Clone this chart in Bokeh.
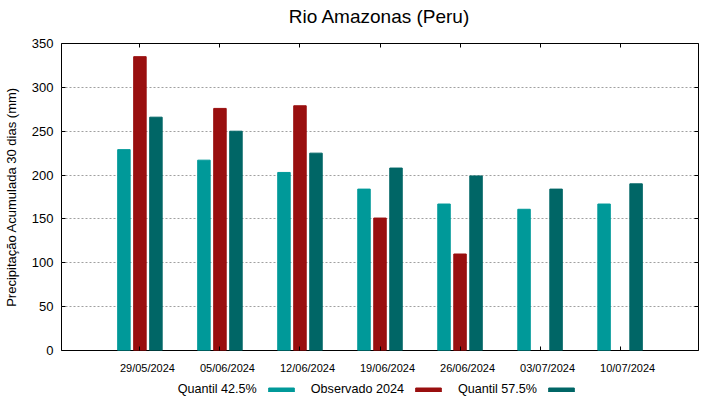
import math
from bokeh.plotting import figure
from bokeh.layouts import column
from bokeh.models import (Range1d, LinearAxis, FixedTicker, Legend, LegendItem,
                          ColumnDataSource, Label)
from bokeh.transform import dodge
from bokeh.embed import file_html
from bokeh.resources import INLINE

# ---- data ----
dates = ["29/05/2024", "05/06/2024", "12/06/2024", "19/06/2024",
         "26/06/2024", "03/07/2024", "10/07/2024"]
quantil_425 = [229, 217, 203, 184, 167, 161, 167]
observado_2024 = [335, 276, 279, 151, 110, float("nan"), float("nan")]
quantil_575 = [266, 250, 225, 208, 199, 184, 190]
y_ticks = [0, 50, 100, 150, 200, 250, 300, 350]
series_names = ["Quantil 42.5%", "Observado 2024", "Quantil 57.5%"]
title_text = "Rio Amazonas (Peru)"

FONT = "Liberation Sans"
C_Q425 = "#009999"
C_OBS = "#990f0f"
C_Q575 = "#006666"
BORDER_L, BORDER_R = 60, 22
FRAME_W, FRAME_H = 637, 307

idx = list(range(len(dates)))
source = ColumnDataSource(data=dict(x=idx, q425=quantil_425,
                                    obs=observado_2024, q575=quantil_575))


def strip_fig(h, x0=BORDER_L, y0=0):
    # a borderless strip aligned with the main frame
    f = figure(frame_width=FRAME_W, frame_height=h,
               x_range=Range1d(x0, x0 + FRAME_W), y_range=Range1d(y0, y0 + h),
               output_backend="svg", toolbar_location=None,
               x_axis_location=None, y_axis_location=None,
               min_border_left=BORDER_L, min_border_right=BORDER_R,
               min_border_top=0, min_border_bottom=0)
    f.outline_line_color = None
    f.grid.visible = False
    return f


# ---- title strip ----
TITLE_H = 30
tfig = strip_fig(TITLE_H)
tfig.add_layout(Label(x=378, y=TITLE_H - 16, text=title_text,
                      text_align="center", text_baseline="middle",
                      text_font=FONT, text_font_size="19px",
                      text_color="black"))

# ---- main plot ----
p = figure(frame_width=FRAME_W, frame_height=FRAME_H,
           x_range=Range1d(-0.98, 6.98), y_range=Range1d(0, 350),
           output_backend="svg", toolbar_location=None,
           min_border_left=BORDER_L, min_border_right=BORDER_R,
           min_border_top=43 - TITLE_H, min_border_bottom=28)

p.outline_line_color = "black"
p.outline_line_width = 1
p.outline_line_alpha = 1

bw = 0.156
p.vbar(x=dodge("x", -0.2), top="q425", width=bw, source=source,
       fill_color=C_Q425, line_color=C_Q425)
p.vbar(x=dodge("x", 0.0), top="obs", width=bw, source=source,
       fill_color=C_OBS, line_color=C_OBS)
p.vbar(x=dodge("x", 0.2), top="q575", width=bw, source=source,
       fill_color=C_Q575, line_color=C_Q575)

# grid
p.xgrid.visible = False
p.ygrid.grid_line_color = "#a0a0a0"
p.ygrid.grid_line_dash = "2 2"
p.ygrid.grid_line_width = 1


def ticks_only(ax):
    ax.major_tick_in = 4
    ax.major_tick_out = 0
    ax.minor_tick_line_color = None
    ax.axis_line_color = None
    ax.major_tick_line_color = "black"
    ax.major_label_text_font_size = "0px"
    ax.major_label_text_color = None
    ax.major_label_standoff = 0


# left y axis
ya = p.yaxis[0]
ya.ticker = FixedTicker(ticks=y_ticks)
ya.major_tick_in = 4
ya.major_tick_out = 0
ya.minor_tick_line_color = None
ya.axis_line_color = None
ya.major_tick_line_color = "black"
ya.major_label_text_font = FONT
ya.major_label_text_font_size = "13px"
ya.major_label_text_color = "black"
ya.major_label_standoff = 8
ya.axis_label = "Precipitação Acumulada 30 dias (mm)"
ya.axis_label_text_font = FONT
ya.axis_label_text_font_size = "13px"
ya.axis_label_text_font_style = "normal"
ya.axis_label_text_color = "black"
ya.axis_label_standoff = 10

# bottom x axis (ticks only, at group centres)
xa = p.xaxis[0]
xa.ticker = FixedTicker(ticks=idx)
ticks_only(xa)

# date label axis (gnuplot draws the labels slightly right of the tick)
p.extra_x_ranges = {"lbl": Range1d(-1.074, 6.886)}
lbl_axis = LinearAxis(x_range_name="lbl", ticker=FixedTicker(ticks=idx),
                      major_label_overrides={i: d for i, d in enumerate(dates)})
lbl_axis.major_tick_in = 0
lbl_axis.major_tick_out = 0
lbl_axis.minor_tick_line_color = None
lbl_axis.axis_line_color = None
lbl_axis.major_tick_line_color = None
lbl_axis.major_label_text_font = FONT
lbl_axis.major_label_text_font_size = "11px"
lbl_axis.major_label_text_color = "black"
lbl_axis.major_label_standoff = 11
p.add_layout(lbl_axis, "below")

# top axis (ticks only)
top_axis = LinearAxis(ticker=FixedTicker(ticks=idx))
ticks_only(top_axis)
p.add_layout(top_axis, "above")

# right axis (ticks only)
right_axis = LinearAxis(ticker=FixedTicker(ticks=y_ticks))
ticks_only(right_axis)
p.add_layout(right_axis, "right")

# ---- legend strip (gnuplot style: "label  swatch") ----
# the series are also drawn here, but far outside this strip's ranges,
# so only their legend swatches are visible
LEG_H = 399 - (43 + FRAME_H + 28)
lfig = strip_fig(LEG_H, x0=5000, y0=5000)
blank = lfig.vbar(x="x", top="q425", width=bw, source=source,
                  fill_alpha=0, line_alpha=0)
s1 = lfig.vbar(x=dodge("x", -0.2), top="q425", width=bw, source=source,
               fill_color=C_Q425, line_color=C_Q425)
s2 = lfig.vbar(x=dodge("x", 0.0), top="obs", width=bw, source=source,
               fill_color=C_OBS, line_color=C_OBS)
s3 = lfig.vbar(x=dodge("x", 0.2), top="q575", width=bw, source=source,
               fill_color=C_Q575, line_color=C_Q575)

legend = Legend(items=[
    LegendItem(label=series_names[0], renderers=[blank]),
    LegendItem(label=series_names[1], renderers=[s1]),
    LegendItem(label=series_names[2], renderers=[s2]),
    LegendItem(label=" ", renderers=[s3]),
], orientation="horizontal", location=(70.7, 3))
legend.glyph_width = 32
legend.glyph_height = 5
legend.label_standoff = 14
legend.spacing = 8
legend.padding = 0
legend.margin = 0
legend.border_line_alpha = 0
legend.background_fill_alpha = 0
legend.label_text_font = FONT
legend.label_text_font_size = "12.6px"
legend.label_text_color = "black"
legend.label_height = 13
lfig.add_layout(legend, "center")

layout = column(tfig, p, lfig, spacing=0)
open("out.html", "w").write(file_html(layout, INLINE))
